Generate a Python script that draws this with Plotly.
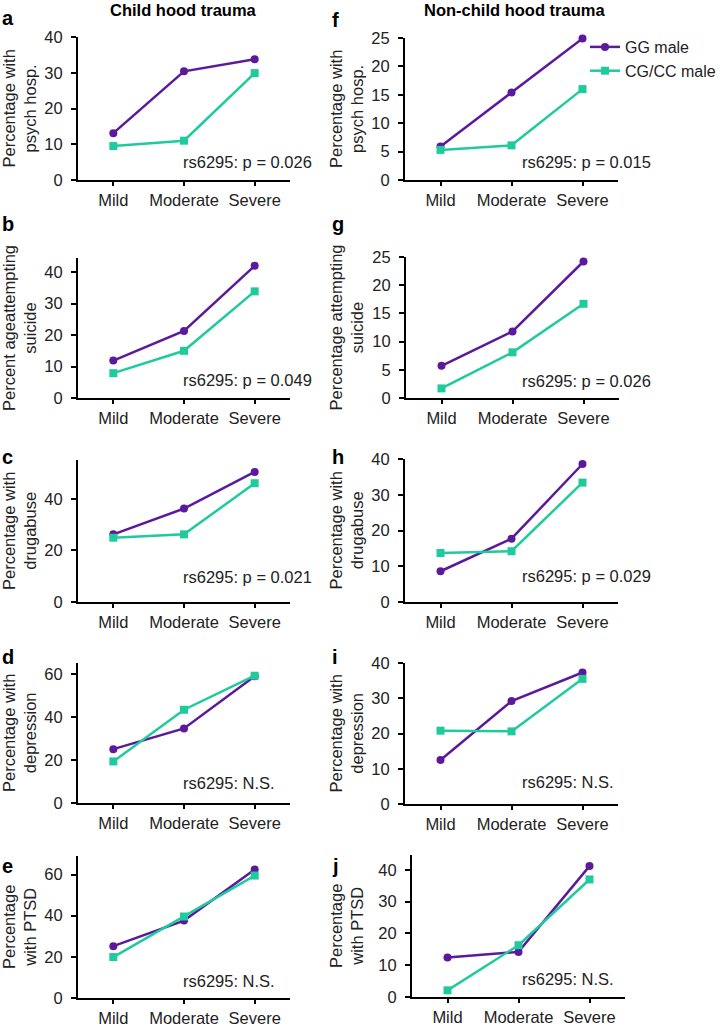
import plotly.graph_objects as go

# ── Data ──────────────────────────────────────────────────────────────────────
categories = ["Mild", "Moderate", "Severe"]
series_names = ["GG male", "CG/CC male"]

# child hood trauma (left column)
a_gg = [13.1, 30.4, 33.8]
a_cg = [9.5, 11.0, 29.9]
b_gg = [11.9, 21.3, 42.0]
b_cg = [7.9, 15.0, 33.9]
c_gg = [26.2, 36.2, 50.4]
c_cg = [24.9, 26.2, 46.0]
d_gg = [25.0, 34.6, 58.8]
d_cg = [19.3, 43.3, 59.1]
e_gg = [25.2, 37.6, 62.4]
e_cg = [19.9, 39.6, 59.5]

# non-child hood trauma (right column)
f_gg = [5.9, 15.4, 24.9]
f_cg = [5.3, 6.1, 16.0]
g_gg = [5.7, 11.8, 24.2]
g_cg = [1.7, 8.1, 16.7]
h_gg = [8.6, 17.7, 38.6]
h_cg = [13.7, 14.2, 33.4]
i_gg = [12.5, 29.2, 37.3]
i_cg = [20.8, 20.6, 35.5]
j_gg = [12.4, 14.2, 41.2]
j_cg = [2.1, 16.3, 37.0]

panel_letters = ["a", "b", "c", "d", "e", "f", "g", "h", "i", "j"]
y_titles = [
    "Percentage with<br>psych hosp.",
    "Percent ageattempting<br>suicide",
    "Percentage with<br>drugabuse",
    "Percentage with<br>depression",
    "Percentage<br>with PTSD",
    "Percentage with<br>psych hosp.",
    "Percentage attempting<br>suicide",
    "Percentage with<br>drugabuse",
    "Percentage with<br>depression",
    "Percentage<br>with PTSD",
]
stat_texts = [
    "rs6295: p = 0.026", "rs6295: p = 0.049", "rs6295: p = 0.021",
    "rs6295: N.S.", "rs6295: N.S.",
    "rs6295: p = 0.015", "rs6295: p = 0.026", "rs6295: p = 0.029",
    "rs6295: N.S.", "rs6295: N.S.",
]
y_tickvals = [
    [0, 10, 20, 30, 40], [0, 10, 20, 30, 40], [0, 20, 40], [0, 20, 40, 60], [0, 20, 40, 60],
    [0, 5, 10, 15, 20, 25], [0, 5, 10, 15, 20, 25], [0, 10, 20, 30, 40],
    [0, 10, 20, 30, 40], [0, 10, 20, 30, 40],
]
y_max = [40, 44.5, 55, 65, 69, 25, 25, 40, 40, 44.7]
column_titles = ["Child hood trauma", "Non-child hood trauma"]

gg_series = [a_gg, b_gg, c_gg, d_gg, e_gg, f_gg, g_gg, h_gg, i_gg, j_gg]
cg_series = [a_cg, b_cg, c_cg, d_cg, e_cg, f_cg, g_cg, h_cg, i_cg, j_cg]

# ── Layout geometry (pixels) ──────────────────────────────────────────────────
W, H = 723, 1028
PURPLE = "#5b1a9c"
TEAL = "#1fcb9d"
TEXT = "#222222"
FONT = "Liberation Sans, Arial, sans-serif"
FS = 16.5

# plot boxes: (left, right, top, bottom)
boxes = [
    (78, 290, 37, 180), (78, 290, 258, 398), (78, 290, 460, 602),
    (78, 290, 663, 803), (78, 290, 856, 998),
    (405, 618, 38, 180), (406, 619, 257, 398), (405, 618, 459, 602),
    (405, 618, 663, 804), (412, 625, 855, 997),
]
stat_y = [162, 380, 577, 783, 981, 162, 381, 576, 782, 979]
letter_y = [18, 224, 457, 657, 866, 20, 224, 457, 657, 866]


def px_x(v):
    return v / W


def px_y(v):
    return 1 - v / H


fig = go.Figure()
annotations = []

for k in range(10):
    l, r, t, b = boxes[k]
    sfx = "" if k == 0 else str(k + 1)
    xa, ya = "x" + sfx, "y" + sfx

    fig.add_trace(go.Scatter(
        x=list(range(len(categories))), y=gg_series[k], xaxis=xa, yaxis=ya,
        mode="lines+markers", name=series_names[0], legendgroup="gg",
        showlegend=(k == 0),
        line=dict(color=PURPLE, width=2.5),
        marker=dict(symbol="circle", size=8, color=PURPLE),
        cliponaxis=False,
    ))
    fig.add_trace(go.Scatter(
        x=list(range(len(categories))), y=cg_series[k], xaxis=xa, yaxis=ya,
        mode="lines+markers", name=series_names[1], legendgroup="cg",
        showlegend=(k == 0),
        line=dict(color=TEAL, width=2.5),
        marker=dict(symbol="square", size=8, color=TEAL),
        cliponaxis=False,
    ))

    fig.layout["xaxis" + sfx] = dict(
        domain=[px_x(l), px_x(r)], anchor=ya, range=[-0.5, 2.5],
        tickvals=list(range(len(categories))), ticktext=categories,
        showline=True, linecolor="black", linewidth=2,
        ticks="outside", ticklen=4, tickwidth=2, tickcolor="black",
        ticklabelstandoff=0,
        showgrid=False, zeroline=False, fixedrange=True,
        tickfont=dict(size=FS, color=TEXT),
    )
    fig.layout["yaxis" + sfx] = dict(
        domain=[px_y(b), px_y(t)], anchor=xa, range=[0, y_max[k]],
        tickvals=y_tickvals[k],
        showline=True, linecolor="black", linewidth=2,
        ticks="outside", ticklen=5, tickwidth=2, tickcolor="black",
        ticklabelstandoff=5,
        showgrid=False, zeroline=False, fixedrange=True,
        tickfont=dict(size=FS, color=TEXT),
    )

    left_col = k < 5
    # y-axis title
    annotations.append(dict(
        text=y_titles[k], textangle=-90, showarrow=False,
        xref="paper", yref=ya + " domain",
        x=px_x(19 if left_col else 346), y=0.5,
        xanchor="center", yanchor="middle",
        font=dict(size=FS, color=TEXT),
    ))
    # statistics text
    annotations.append(dict(
        text=stat_texts[k], showarrow=False,
        xref="paper", yref="paper",
        x=px_x(181 if left_col else 520), y=px_y(stat_y[k]),
        xanchor="left", yanchor="middle",
        font=dict(size=FS, color=TEXT),
    ))
    # panel letter
    annotations.append(dict(
        text="<b>" + panel_letters[k] + "</b>", showarrow=False,
        xref="paper", yref="paper",
        x=px_x(0 if left_col else 330), y=px_y(letter_y[k]),
        xanchor="left", yanchor="middle",
        font=dict(size=20, color="black"),
    ))

# column titles
for title, cx in zip(column_titles, [183, 514]):
    annotations.append(dict(
        text="<b>" + title + "</b>", showarrow=False,
        xref="paper", yref="paper", x=px_x(cx), y=px_y(10),
        xanchor="center", yanchor="middle",
        font=dict(size=FS, color="black"),
    ))

fig.update_layout(
    width=W, height=H,
    margin=dict(l=0, r=0, t=0, b=0, autoexpand=False),
    paper_bgcolor="white", plot_bgcolor="white",
    font=dict(family=FONT, color=TEXT),
    annotations=annotations,
    showlegend=True,
    legend=dict(
        x=px_x(585), y=px_y(30), xanchor="left", yanchor="top",
        font=dict(size=16, color=TEXT), bgcolor="rgba(0,0,0,0)",
        itemwidth=30, tracegroupgap=0,
    ),
)

fig.write_html(
    "out.html",
    config={"displayModeBar": False},
    post_script="document.body.style.margin='0';document.body.style.overflow='hidden';",
)
